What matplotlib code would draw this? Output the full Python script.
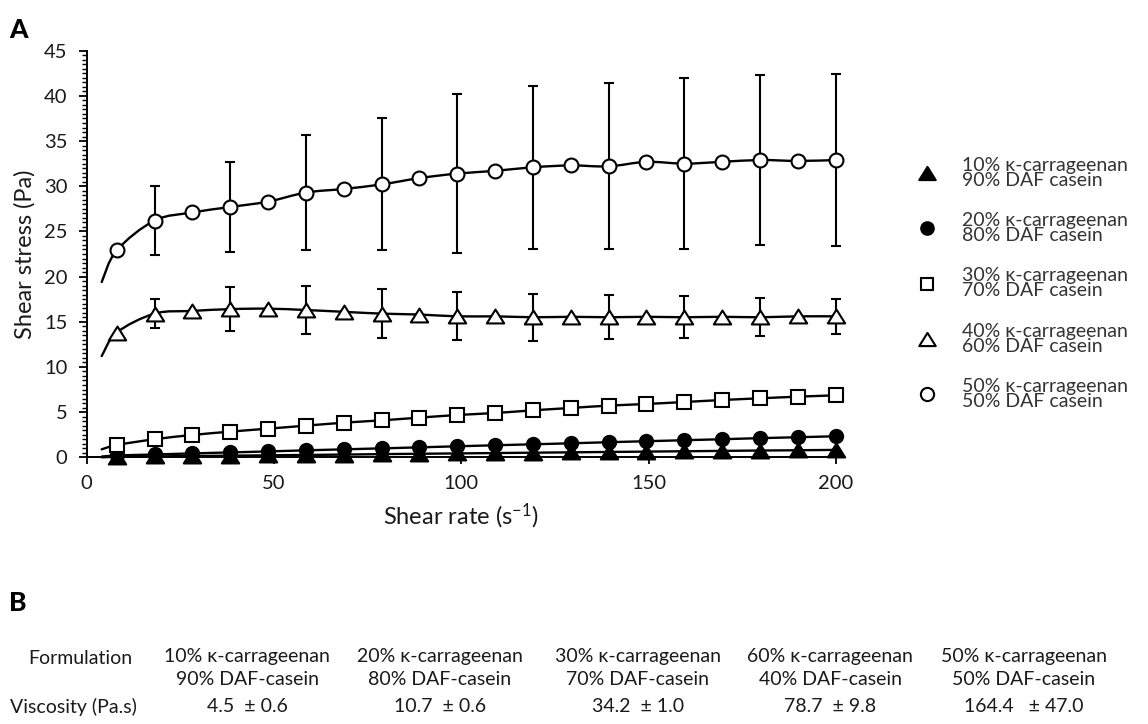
import matplotlib
matplotlib.use('Agg')
import matplotlib.pyplot as plt
import numpy as np
from matplotlib.path import Path
from matplotlib.patches import PathPatch
from matplotlib.lines import Line2D
from matplotlib.ticker import MultipleLocator

plt.rcParams['font.family'] = ['Lato', 'DejaVu Sans']
plt.rcParams['mathtext.default'] = 'regular'

# ---------------- data ----------------
shear_rate = [8.0, 18.1, 28.2, 38.3, 48.4, 58.5, 68.6, 78.7, 88.8, 98.9,
              109.0, 119.1, 129.2, 139.3, 149.4, 159.5, 169.6, 179.7, 189.8, 200.0]
line_start_rate = 4.0

stress_10 = [0.05, 0.10, 0.14, 0.18, 0.22, 0.26, 0.30, 0.35, 0.39, 0.43,
             0.47, 0.51, 0.55, 0.59, 0.63, 0.67, 0.71, 0.75, 0.78, 0.82]
stress_20 = [0.20, 0.31, 0.43, 0.54, 0.65, 0.77, 0.88, 0.99, 1.10, 1.22,
             1.33, 1.44, 1.55, 1.67, 1.78, 1.89, 2.00, 2.12, 2.22, 2.33]
stress_30 = [1.36, 2.00, 2.47, 2.84, 3.17, 3.50, 3.83, 4.09, 4.39, 4.68,
             4.90, 5.20, 5.46, 5.72, 5.90, 6.12, 6.34, 6.53, 6.71, 6.86]
stress_40 = [13.8, 15.9, 16.2, 16.4, 16.45, 16.3, 16.1, 15.9, 15.8, 15.6,
             15.6, 15.5, 15.55, 15.5, 15.55, 15.5, 15.55, 15.5, 15.6, 15.6]
stress_50 = [22.9, 26.2, 27.1, 27.7, 28.3, 29.3, 29.7, 30.2, 30.9, 31.4,
             31.7, 32.1, 32.3, 32.2, 32.7, 32.5, 32.7, 32.9, 32.8, 32.9]

line_start_10 = 0.0
line_start_20 = 0.08
line_start_30 = 0.88
line_start_40 = 11.2
line_start_50 = 19.4

# SD bars shown on every second point (2nd, 4th, ... 20th)
err_40 = [1.6, 2.4, 2.7, 2.7, 2.65, 2.6, 2.45, 2.35, 2.1, 1.95]
err_50 = [3.8, 5.0, 6.4, 7.3, 8.8, 9.0, 9.2, 9.5, 9.4, 9.5]

legend_labels = ['10% κ-carrageenan\n90% DAF casein',
                 '20% κ-carrageenan\n80% DAF casein',
                 '30% κ-carrageenan\n70% DAF casein',
                 '40% κ-carrageenan\n60% DAF casein',
                 '50% κ-carrageenan\n50% DAF casein']

table_formulations = ['10% κ-carrageenan\n90% DAF-casein',
                      '20% κ-carrageenan\n80% DAF-casein',
                      '30% κ-carrageenan\n70% DAF-casein',
                      '60% κ-carrageenan\n40% DAF-casein',
                      '50% κ-carrageenan\n50% DAF-casein']
viscosity_mean = ['4.5', '10.7', '34.2', '78.7', '164.4']
viscosity_sd = ['0.6', '0.6', '1.0', '9.8', '47.0']

# ---------------- figure ----------------
W, H = 1148, 724
fig = plt.figure(figsize=(W / 100, H / 100), dpi=100)
ax = fig.add_axes([86.7 / W, 1 - 457.3 / H, (836 - 86.7) / W, (457.3 - 50.7) / H])

TXT = '#1a1a1a'


def smooth_path(xs, ys):
    pts = np.column_stack([xs, ys]).astype(float)
    P = np.vstack([pts[0], pts, pts[-1]])
    verts = [pts[0]]
    codes = [Path.MOVETO]
    for i in range(1, len(P) - 2):
        p0, p1, p2, p3 = P[i - 1], P[i], P[i + 1], P[i + 2]
        c1 = p1 + (p2 - p0) / 6.0
        c2 = p2 - (p3 - p1) / 6.0
        verts += [c1, c2, p2]
        codes += [Path.CURVE4] * 3
    return Path(verts, codes)


tri_marker = Path([(-1, -0.8), (1, -0.8), (0, 0.8), (-1, -0.8)],
                  [Path.MOVETO, Path.LINETO, Path.LINETO, Path.CLOSEPOLY])

series = [
    (stress_10, line_start_10, dict(marker=tri_marker, ms=12.5, mfc='black')),
    (stress_20, line_start_20, dict(marker='o', ms=9.5, mfc='black')),
    (stress_30, line_start_30, dict(marker='s', ms=9.5, mfc='white')),
    (stress_40, line_start_40, dict(marker=tri_marker, ms=12.5, mfc='white')),
    (stress_50, line_start_50, dict(marker='o', ms=10, mfc='white')),
]

x = np.array(shear_rate)
# error bars first (behind)
for vals, err in [(stress_40, err_40), (stress_50, err_50)]:
    eb = ax.errorbar(x[1::2], np.array(vals)[1::2], yerr=err, fmt='none',
                     ecolor='black', elinewidth=1.5, capsize=3.4, capthick=1.5, zorder=1)
    for art in eb.get_children():
        art.set_clip_on(False)

handles = []
for vals, start, st in series:
    xs = [line_start_rate] + shear_rate
    ys = [start] + vals
    ax.add_patch(PathPatch(smooth_path(xs, ys), fill=False, lw=1.7,
                           ec='black', zorder=2, capstyle='round', clip_on=False))
    ax.plot(shear_rate, vals, ls='none', marker=st['marker'], ms=st['ms'],
            mfc=st['mfc'], mec='black', mew=1.5, zorder=3, clip_on=False)
    handles.append(Line2D([], [], ls='none', marker=st['marker'], ms=st['ms'] * 0.95,
                          mfc=st['mfc'], mec='black', mew=1.5))

ax.set_xlim(0, 200)
ax.set_ylim(0, 45)
ax.xaxis.set_major_locator(MultipleLocator(50))
ax.yaxis.set_major_locator(MultipleLocator(5))
ax.yaxis.set_minor_locator(MultipleLocator(0.5))
for s in ['top', 'right']:
    ax.spines[s].set_visible(False)
for s in ['left', 'bottom']:
    ax.spines[s].set_linewidth(1.4)
    ax.spines[s].set_color('black')
ax.tick_params(axis='y', which='major', length=6, width=1.3, labelsize=14.5,
               labelcolor=TXT, pad=8)
ax.tick_params(axis='y', which='minor', length=3.5, width=1.0)
ax.tick_params(axis='x', which='major', length=5, width=1.3, labelsize=14.5,
               labelcolor=TXT, pad=8)
ax.set_xlabel('Shear rate (s$^{-1}$)', fontsize=17, color=TXT, labelpad=7)
ax.set_ylabel('Shear stress (Pa)', fontsize=17, color=TXT, labelpad=6)

leg = fig.legend(handles, legend_labels, loc='upper left',
                 bbox_to_anchor=(917 / W, 1 - 157 / H), frameon=False,
                 fontsize=14, handlelength=1.0, handletextpad=1.3,
                 labelspacing=1.2, borderpad=0, borderaxespad=0)
for t in leg.get_texts():
    t.set_linespacing(0.85)
    t.set_color('#333333')

# panel labels
fig.text(9 / W, 1 - 30 / H, 'A', fontsize=19, fontweight='black', va='center', ha='left')
fig.text(9 / W, 1 - 603 / H, 'B', fontsize=19, fontweight='black', va='center', ha='left')

# table B
col_x = [247, 440, 638, 830, 1024]
fig.text(80 / W, 1 - 659 / H, 'Formulation', fontsize=14, ha='center', va='center', color=TXT)
fig.text(73 / W, 1 - 707 / H, 'Viscosity (Pa.s)', fontsize=14, ha='center', va='center', color=TXT)
for cx, form, m, sd in zip(col_x, table_formulations, viscosity_mean, viscosity_sd):
    fig.text(cx / W, 1 - 668 / H, form, fontsize=14, ha='center', va='center',
             color=TXT, linespacing=1.45)
    sep = '   ± ' if len(m) > 4 else '  ± '
    fig.text(cx / W, 1 - 707 / H, m + sep + sd, fontsize=14, ha='center',
             va='center', color=TXT)

fig.savefig('out.png', dpi=100)
